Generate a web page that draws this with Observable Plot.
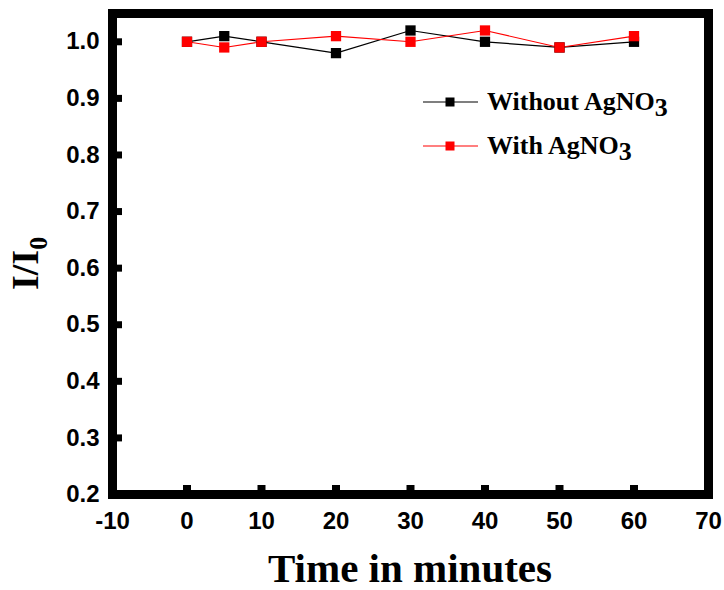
<!DOCTYPE html>
<html>
<head>
<meta charset="utf-8">
<script src="https://cdn.jsdelivr.net/npm/d3@7"></script>
<script src="https://cdn.jsdelivr.net/npm/@observablehq/plot@0.6"></script>
<style>
  html, body { margin: 0; padding: 0; background: #fff; }
  #chart { position: relative; width: 724px; height: 590px; }
</style>
</head>
<body>
<div id="chart"></div>
<script>
// ---- data ----
const times = [0, 5, 10, 20, 30, 40, 50, 60];
const withoutAgNO3 = [1.00, 1.01, 1.00, 0.98, 1.02, 1.00, 0.99, 1.00];
const withAgNO3 = [1.00, 0.99, 1.00, 1.01, 1.00, 1.02, 0.99, 1.01];
const seriesNames = ["Without AgNO", "With AgNO"];
const seriesSub = ["3", "3"];
const seriesColors = ["#000000", "#ff0000"];
const xTickLabels = [-10, 0, 10, 20, 30, 40, 50, 60, 70];
const xInnerTicks = [0, 10, 20, 30, 40, 50, 60];
const yTickLabels = [0.2, 0.3, 0.4, 0.5, 0.6, 0.7, 0.8, 0.9, 1.0];
const yInnerTicks = [0.3, 0.4, 0.5, 0.6, 0.7, 0.8, 0.9, 1.0];
const xTitle = "Time in minutes";
const yTitleMain = "I/I";
const yTitleSub = "0";

// ---- build ----
const W = 724, H = 590;
const mL = 112, mR = 16, mT = 13, mB = 96;
const plotW = W - mL - mR, plotH = H - mT - mB;

const sBlack = times.map((t, i) => ({t, v: withoutAgNO3[i]}));
const sRed = times.map((t, i) => ({t, v: withAgNO3[i]}));

const sans = "'Liberation Sans', Arial, sans-serif";
const serif = "'Liberation Serif', 'Times New Roman', serif";

const chart = Plot.plot({
  width: W, height: H,
  marginLeft: mL, marginRight: mR, marginTop: mT, marginBottom: mB,
  style: {background: "#fff", color: "#000"},
  x: {domain: [-10, 70]},
  y: {domain: [0.2, 1.05]},
  marks: [
    Plot.axisX(xTickLabels, {tickSize: 0, tickPadding: 17, fontSize: 24, fontWeight: "bold", fontFamily: sans, label: null, tickFormat: d => String(d)}),
    Plot.axisY(yTickLabels, {tickSize: 0, tickPadding: 13, fontSize: 24, fontWeight: "bold", fontFamily: sans, label: null, tickFormat: d3.format(".1f")}),
    Plot.tickX(xInnerTicks, {x: d => d, insetTop: plotH - 9, stroke: "#000", strokeWidth: 8}),
    Plot.tickY(yInnerTicks, {y: d => d, insetRight: plotW - 10, stroke: "#000", strokeWidth: 7}),
    Plot.line(sBlack, {x: "t", y: "v", stroke: seriesColors[0], strokeWidth: 1.2}),
    Plot.line(sRed, {x: "t", y: "v", stroke: seriesColors[1], strokeWidth: 1.1}),
    Plot.dot(sBlack, {x: "t", y: "v", symbol: "square", r: 5.8, fill: seriesColors[0], stroke: "none"}),
    Plot.dot(sRed, {x: "t", y: "v", symbol: "square", r: 5.8, fill: seriesColors[1], stroke: "none"}),
    Plot.frame({stroke: "#000", strokeWidth: 9})
  ]
});
document.getElementById("chart").appendChild(chart);

const svg = d3.select(chart);

// x title
svg.append("text")
  .attr("x", 410).attr("y", 582)
  .attr("text-anchor", "middle")
  .attr("font-family", serif).attr("font-weight", "bold").attr("font-size", 41)
  .attr("fill", "#000")
  .text(xTitle);

// y title
const yt = svg.append("text")
  .attr("transform", "translate(38,290) rotate(-90)")
  .attr("text-anchor", "start")
  .attr("font-family", serif).attr("font-weight", "bold").attr("font-size", 38)
  .attr("fill", "#000");
yt.append("tspan").text(yTitleMain);
yt.append("tspan").attr("font-size", 26).attr("dy", 9).text(yTitleSub);

// legend
const legY = [102, 146];
seriesNames.forEach((name, i) => {
  const g = svg.append("g");
  g.append("line").attr("x1", 423).attr("x2", 478).attr("y1", legY[i]).attr("y2", legY[i])
    .attr("stroke", seriesColors[i]).attr("stroke-width", 1.1);
  g.append("rect").attr("x", 445.5).attr("y", legY[i] - 4.5).attr("width", 9).attr("height", 9)
    .attr("fill", seriesColors[i]);
  const t = g.append("text").attr("x", 487).attr("y", legY[i] + 8)
    .attr("text-anchor", "start")
    .attr("font-family", serif).attr("font-weight", "bold").attr("font-size", 26)
    .attr("fill", "#000");
  t.append("tspan").text(name);
  t.append("tspan").attr("dy", 6).text(seriesSub[i]);
});
</script>
</body>
</html>
